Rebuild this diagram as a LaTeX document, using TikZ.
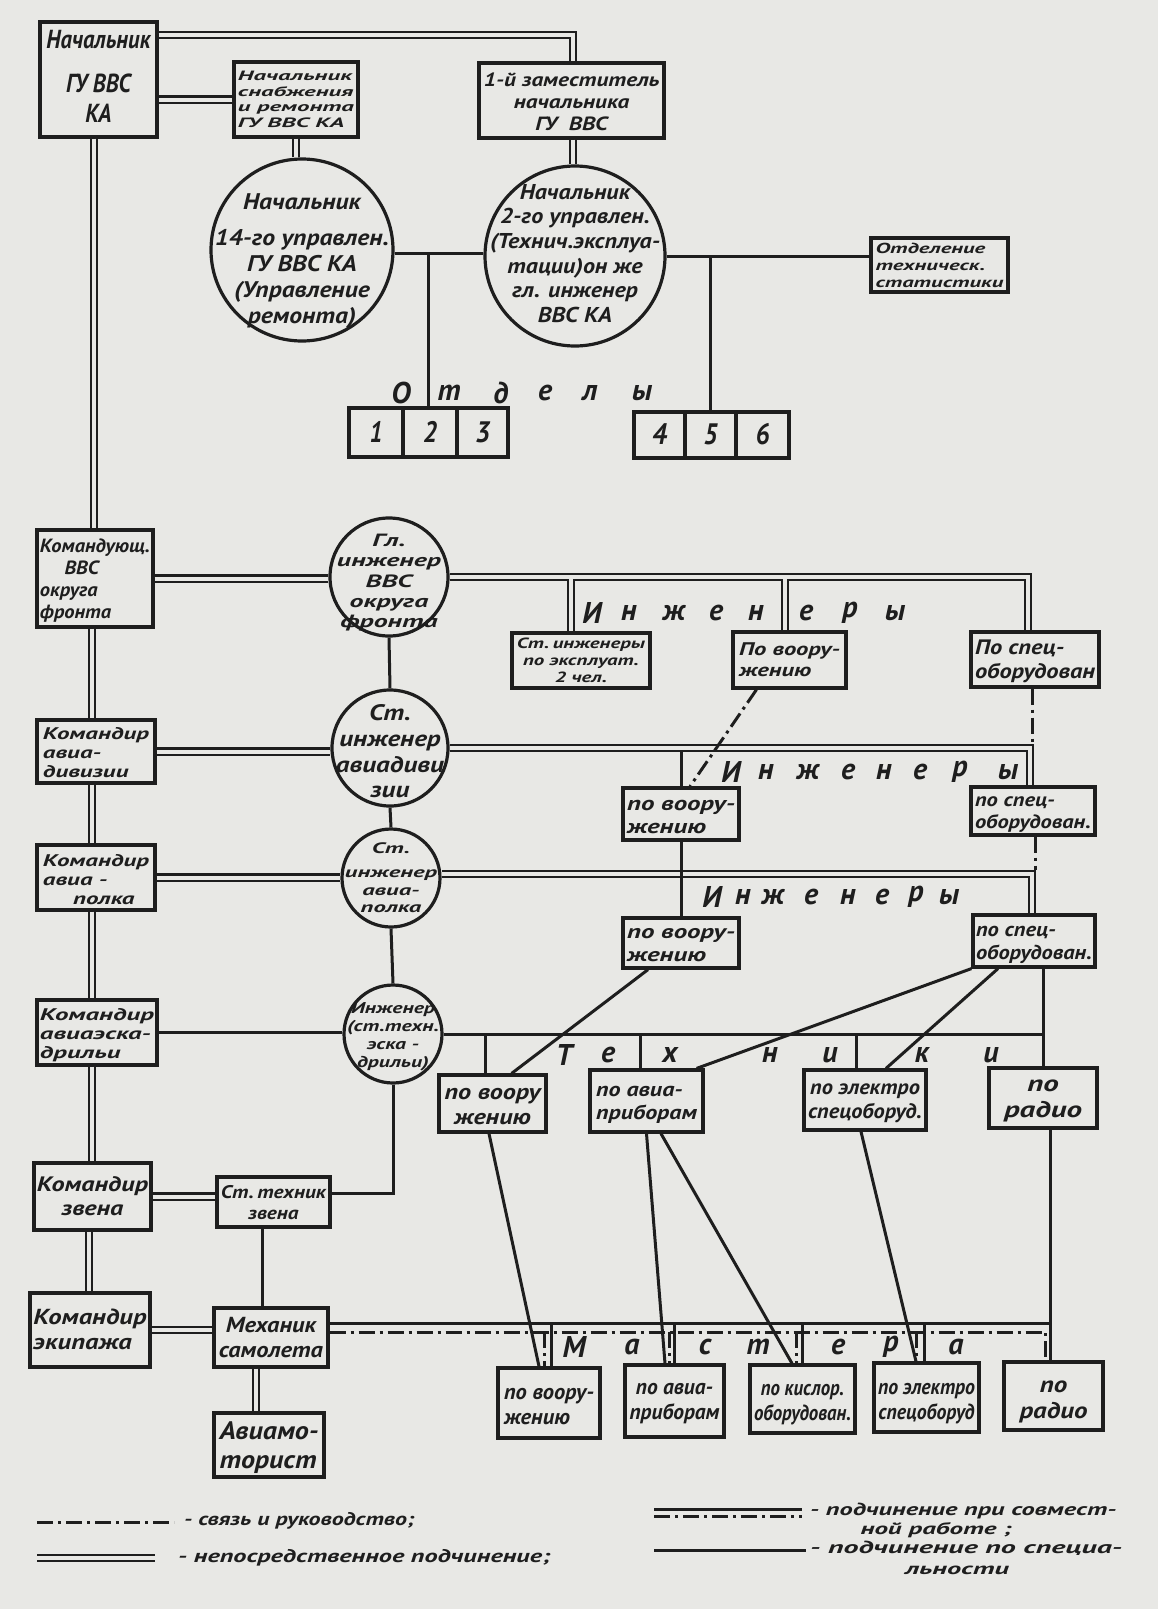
\documentclass[tikz,border=0pt]{standalone}
\usepackage{fontspec}
\usepackage{graphicx}
\newfontfamily\handfont{PT Sans}
\usetikzlibrary{calc}
\definecolor{paper}{RGB}{232,232,229}
\definecolor{ink}{RGB}{30,30,30}
\newcommand\hw{\fontsize{10}{11.5}\selectfont\handfont\bfseries\itshape}
\newcommand\tb[4][c]{\resizebox*{#2pt}{#3pt}{\hw\begin{tabular}{@{}#1@{}}#4\end{tabular}}}
\tikzset{
  ln/.style={draw=ink, line width=3pt},
  dbl/.style={draw=ink, line width=2.4pt, double=paper, double distance=4pt},
  dd/.style={draw=ink, line width=3pt, dash pattern=on 16pt off 5pt on 3pt off 5pt},
  box/.style={draw=ink, line width=3.2pt, rectangle, inner sep=0pt},
  circ/.style={draw=ink, line width=3.2pt, circle, inner sep=0pt},
  tl/.style={inner sep=0pt, text=ink},
  ltr/.style={inner sep=0pt, text=ink, font=\fontsize{30}{30}\selectfont\handfont\bfseries\itshape},
}
\begin{document}
\begin{tikzpicture}[x=1pt,y=-1pt]
\fill[paper] (0,0) rectangle (1158,1609);
\useasboundingbox (0,0) rectangle (1158,1609);

% ---------- top level ----------
\node[box, minimum width=117pt, minimum height=115pt, label={[tl]center:{\tb{104}{104}{Начальник\\[5.4pt]ГУ ВВС\\КА}}}] (A) at (98.5,79.5) {};
\node[box, minimum width=124pt, minimum height=75pt, label={[tl,yshift=-1.5pt]center:{\tb[l]{116}{62}{Начальник\\снабжения\\и ремонта\\ГУ ВВС КА}}}] (B) at (296,99.5) {};
\node[box, minimum width=185pt, minimum height=75pt, label={[tl,yshift=-4pt]center:{\tb{176}{66}{1-й заместитель\\начальника\\ГУ~~ВВС}}}] (C) at (571.5,100.5) {};
\node[circ, minimum size=182pt, label={[tl,yshift=-11pt]center:{\tb{174}{140}{Начальник\\[4.4pt]14-го управлен.\\ГУ ВВС КА\\(Управление\\ремонта)}}}] (D) at (302,250) {};
\node[circ, minimum size=180pt, label={[tl]center:{\tb{170}{148}{Начальник\\2-го управлен.\\(Технич.эксплуа-\\тации)он же\\гл. инженер\\ВВС КА}}}] (E) at (575,256) {};
\node[box, minimum width=137pt, minimum height=54pt, label={[tl,yshift=-2pt]center:{\tb[l]{128}{50}{Отделение\\техническ.\\статистики}}}] (Otd) at (939.5,265) {};

\node[box, minimum width=54pt, minimum height=49pt, label={[tl,yshift=-3pt]center:{\tb{13}{34}{1}}}] (b1) at (376,432.5) {};
\node[box, minimum width=54pt, minimum height=49pt, label={[tl,yshift=-3pt]center:{\tb{14}{34}{2}}}] (b2) at (430,432.5) {};
\node[box, minimum width=51pt, minimum height=49pt, label={[tl,yshift=-3pt]center:{\tb{15}{34}{3}}}] (b3) at (482.5,432.5) {};
\node[box, minimum width=51pt, minimum height=46pt, label={[tl,yshift=-3pt]center:{\tb{15}{34}{4}}}] (b4) at (659.5,435) {};
\node[box, minimum width=51pt, minimum height=46pt, label={[tl,yshift=-3pt]center:{\tb{14}{34}{5}}}] (b5) at (710.5,435) {};
\node[box, minimum width=53pt, minimum height=46pt, label={[tl,yshift=-3pt]center:{\tb{14}{34}{6}}}] (b6) at (762.5,435) {};

% ---------- okrug level ----------
\node[box, minimum width=116pt, minimum height=97pt, label={[tl,yshift=-2.5pt]center:{\tb[l]{110}{88}{Командующ.\\\hspace*{1.2em}ВВС\\округа\\фронта}}}] (F) at (95,578.5) {};
\node[circ, minimum size=118pt, label={[tl,yshift=-6pt]center:{\tb{104}{102}{Гл.\\инженер\\ВВС\\округа\\фронта}}}] (G) at (389,577) {};
\node[box, minimum width=138pt, minimum height=55pt, label={[tl,yshift=-2pt]center:{\tb{128}{51}{Ст.\,инженеры\\по эксплуат.\\2 чел.}}}] (R1a) at (581,660.5) {};
\node[box, minimum width=113pt, minimum height=56pt, label={[tl,yshift=-2pt]center:{\tb[l]{101}{42}{По воору-\\жению}}}] (R1b) at (789.5,660) {};
\node[box, minimum width=128pt, minimum height=55pt, label={[tl,yshift=-2.5pt]center:{\tb[l]{120}{48}{По спец-\\оборудован}}}] (R1c) at (1035,659.5) {};

% ---------- division ----------
\node[box, minimum width=118pt, minimum height=63pt, label={[tl,yshift=-3pt]center:{\tb[l]{106}{58}{Командир\\авиа-\\дивизии}}}] (I) at (96,751.5) {};
\node[circ, minimum size=116pt, label={[tl,yshift=-6pt]center:{\tb{108}{103}{Ст.\\инженер\\авиадиви\\зии}}}] (H) at (390,748) {};
\node[box, minimum width=116pt, minimum height=52pt, label={[tl,yshift=-3pt]center:{\tb[l]{108}{46}{по воору-\\жению}}}] (R2a) at (681,814) {};
\node[box, minimum width=124pt, minimum height=48pt, label={[tl,yshift=-2.5pt]center:{\tb[l]{116}{44}{по спец-\\оборудован.}}}] (R2b) at (1033,811) {};

% ---------- regiment ----------
\node[box, minimum width=118pt, minimum height=65pt, label={[tl,yshift=-4pt]center:{\tb[l]{106}{58}{Командир\\авиа -\\\hspace*{1.2em}полка}}}] (K) at (96,877.5) {};
\node[circ, minimum size=98pt, label={[tl,yshift=-1.5pt]center:{\tb{92}{77}{Ст.\\[4.9pt]инженер\\авиа-\\полка}}}] (J) at (391,878) {};
\node[box, minimum width=116pt, minimum height=50pt, label={[tl,yshift=-2.5pt]center:{\tb[l]{108}{45}{по воору-\\жению}}}] (R3a) at (681,943) {};
\node[box, minimum width=122pt, minimum height=52pt, label={[tl,yshift=-2.5pt]center:{\tb[l]{116}{46}{по спец-\\оборудован.}}}] (R3b) at (1034,941) {};

% ---------- squadron ----------
\node[box, minimum width=120pt, minimum height=65pt, label={[tl,yshift=-3pt]center:{\tb[l]{114}{58}{Командир\\авиаэска-\\дрильи}}}] (M) at (97,1032.5) {};
\node[circ, minimum size=98pt, label={[tl,yshift=-3pt]center:{\tb{92}{72}{Инженер\\(ст.техн.\\эска -\\дрильи)}}}] (L) at (393,1034) {};
\node[box, minimum width=107pt, minimum height=57pt, label={[tl,yshift=-3pt]center:{\tb{96}{50}{по воору\\жению}}}] (T1) at (492.5,1103.5) {};
\node[box, minimum width=113pt, minimum height=62pt, label={[tl,yshift=-2pt]center:{\tb[l]{101}{46}{по авиа-\\приборам}}}] (T2) at (646.5,1101) {};
\node[box, minimum width=122pt, minimum height=60pt, label={[tl,yshift=-2pt]center:{\tb{114}{48}{по электро\\спецоборуд.}}}] (T3) at (865,1100) {};
\node[box, minimum width=108pt, minimum height=60pt, label={[tl,yshift=-1pt]center:{\tb{78}{52}{по\\радио}}}] (T4) at (1043,1098) {};

% ---------- flight / crew ----------
\node[box, minimum width=117pt, minimum height=67pt, label={[tl,yshift=-2.5pt]center:{\tb{111}{48}{Командир\\звена}}}] (O) at (92.5,1196.5) {};
\node[box, minimum width=113pt, minimum height=50pt, label={[tl,yshift=-3pt]center:{\tb{105}{42}{Ст.\,техник\\звена}}}] (N) at (273.5,1202) {};
\node[box, minimum width=120pt, minimum height=74pt, label={[tl,yshift=-2pt]center:{\tb[l]{113}{50}{Командир\\экипажа}}}] (Q) at (90,1330) {};
\node[box, minimum width=114pt, minimum height=59pt, label={[tl,yshift=-2.5pt]center:{\tb{104}{50}{Механик\\самолета}}}] (P) at (271,1337.5) {};
\node[box, minimum width=110pt, minimum height=64pt, label={[tl,yshift=-3pt]center:{\tb[l]{99}{58}{Авиамо-\\торист}}}] (R) at (269,1445) {};

% ---------- masters ----------
\node[box, minimum width=102pt, minimum height=70pt, label={[tl,yshift=-4pt]center:{\tb[l]{90}{50}{по воору-\\жению}}}] (M1) at (549,1403) {};
\node[box, minimum width=99pt, minimum height=72pt, label={[tl,yshift=-1pt]center:{\tb{90}{50}{по авиа-\\приборам}}}] (M2) at (674.5,1401) {};
\node[box, minimum width=105pt, minimum height=68pt, label={[tl,yshift=-4pt]center:{\tb{97}{50}{по кислор.\\оборудован.}}}] (M3) at (802.5,1399) {};
\node[box, minimum width=105pt, minimum height=69pt, label={[tl,yshift=-4pt]center:{\tb{97}{50}{по электро\\спецоборуд}}}] (M4) at (926.5,1397.5) {};
\node[box, minimum width=99pt, minimum height=68pt, label={[tl,yshift=-4pt]center:{\tb{68}{52}{по\\радио}}}] (M5) at (1053.5,1396) {};

% ---------- spaced words ----------
\foreach \c/\x [count=\i] in {О/401,т/449,д/501,е/545,л/590,ы/642}
  \node[ltr] (otd\i) at (\x,393) {\c};
\foreach \c/\x [count=\i] in {И/592,н/629,ж/674,е/716,н/756,е/806,р/850,ы/895}
  \node[ltr] (ia\i) at (\x,613) {\c};
\foreach \c/\x [count=\i] in {И/731,н/766,ж/808,е/848,н/884,е/920,р/960,ы/1008}
  \node[ltr] (ib\i) at (\x,772) {\c};
\foreach \c/\x [count=\i] in {И/712,н/743,ж/773,е/811,н/848,е/882,р/916,ы/949}
  \node[ltr] (ic\i) at (\x,897) {\c};
\foreach \c/\x [count=\i] in {Т/564,е/608,х/670,н/770,и/830,к/922,и/991}
  \node[ltr] (te\i) at (\x,1055) {\c};
\foreach \c/\x [count=\i] in {М/574,а/632,с/705,т/758,е/838,р/891,а/956}
  \node[ltr] (ma\i) at (\x,1347) {\c};

% ---------- junction coordinates ----------
\coordinate (colA) at (94,0);
\coordinate (colB) at (92,0);
\coordinate (colC) at (89,0);
\coordinate (jDE) at (428,253);
\coordinate (jE) at (710,256);
\coordinate (g1) at (571,579);
\coordinate (g2) at (785,579);
\coordinate (h0) at (0,744);
\coordinate (h1) at (0,750);
\coordinate (j0) at (0,870);
\coordinate (mt) at (0,1323);
\coordinate (md) at (0,1332);

% ---------- top connectors ----------
\draw[dbl] ([yshift=-14.5pt]A.north east) -| ([xshift=1.5pt]C.north);
\draw[dbl] (B.west) -- (B.west -| A.east);
\draw[dbl] (B.south) -- (B.south |- D.north);
\draw[dbl] ([xshift=1.5pt]C.south) -- ([xshift=1.5pt]C.south |- E.north);
\draw[ln] ([yshift=-3pt]D.east) -- ([yshift=-3pt]D.east -| E.west);
\draw[ln] (jDE) -- (jDE |- b2.north);
\draw[ln] (E.east) -- (E.east -| Otd.west);
\draw[ln] (jE) -- (jE |- b5.north);

% ---------- commander column ----------
\draw[dbl] (A.south -| colA) -- (F.north -| colA);
\draw[dbl] (F.south -| colB) -- (I.north -| colB);
\draw[dbl] (I.south -| colB) -- (K.north -| colB);
\draw[dbl] (K.south -| colB) -- (M.north -| colB);
\draw[dbl] (M.south -| colB) -- (O.north -| colB);
\draw[dbl] (O.south -| colC) -- (Q.north -| colC);

% ---------- okrug ----------
\draw[dbl] (F.east) -- (F.east -| G.west);
\draw[dbl] (G.east) -| ([xshift=-7pt]R1c.north);
\draw[dbl] (g1) -- (g1 |- R1a.north);
\draw[dbl] (g2) -- (g2 |- R1b.north);
\draw[ln] (G.south) -- (H.north);

% ---------- division ----------
\draw[dbl] (I.east) -- (I.east -| H.west);
\draw[dbl] (H.east) -| ([xshift=-3pt]R2b.north);
\draw[ln] (R2a.north) -- (R2a.north |- h1);
\draw[dd] ([xshift=-33pt]R1b.south) -- ([xshift=9pt]R2a.north);
\draw[dd] ([xshift=-3pt]R1c.south) -- ([xshift=-3pt]R1c.south |- h0);
\draw[ln] (H.south) -- (J.north);

% ---------- regiment ----------
\draw[dbl] (K.east) -- (K.east -| J.west);
\draw[dbl] ([yshift=4pt]J.east) -| ([xshift=-2pt]R3b.north);
\draw[ln] (R2a.south) -- (R3a.north);
\draw[dd] ([xshift=2pt]R2b.south) -- ([xshift=2pt]R2b.south |- j0);
\draw[ln] (J.south) -- (L.north);

% ---------- squadron / technicians ----------
\draw[ln] (M.east) -- (M.east -| L.west);
\draw[ln] (L.east) -- (L.east -| T4.north);
\draw[ln] (R3b.south -| T4.north) -- (T4.north);
\draw[ln] ([xshift=-7pt]T1.north) -- ([xshift=-7pt]T1.north |- L.east);
\draw[ln] ([xshift=-6pt]T2.north) -- ([xshift=-6pt]T2.north |- L.east);
\draw[ln] ([xshift=-9pt]T3.north) -- ([xshift=-9pt]T3.north |- L.east);
\draw[ln] ([xshift=-33pt]R3a.south) -- ([xshift=-36pt]T1.north east);
\draw[ln] (R3b.south west) -- ([xshift=-8pt]T2.north east);
\draw[ln] ([xshift=-36pt]R3b.south) -- ([xshift=21pt]T3.north);

% ---------- technicians to masters ----------
\draw[ln] ([xshift=-3.5pt]T1.south) -- ([xshift=-10pt]M1.north);
\draw[ln] (T2.south) -- ([xshift=-9.5pt]M2.north);
\draw[ln] ([xshift=14.5pt]T2.south) -- ([xshift=-10.5pt]M3.north);
\draw[ln] ([xshift=-4pt]T3.south) -- ([xshift=-10.5pt]M4.north);
\draw[ln] ([xshift=7pt]T4.south) -- ([xshift=-3.5pt]M5.north);

% ---------- flight / crew ----------
\draw[ln] (L.south) |- ([yshift=9pt]N.east);
\draw[dbl] (O.east) -- (O.east -| N.west);
\draw[ln] ([xshift=-11pt]N.south) -- ([xshift=-11pt]N.south |- P.north);
\draw[dbl] (Q.east) -- (Q.east -| P.west);
\draw[dbl] ([xshift=-15pt]P.south) -- ([xshift=-15pt]P.south |- R.north);

% ---------- masters joint line ----------
\draw[ln] (P.east |- mt) -- ([xshift=7pt]T4.south |- mt);
\draw[dd] (P.east |- md) -| ([xshift=-8pt]M5.north);
\draw[ln] ([xshift=2pt]M1.north) -- ([xshift=2pt]M1.north |- mt);
\draw[ln] (M2.north) -- (M2.north |- mt);
\draw[ln] (M3.north) -- (M3.north |- mt);
\draw[ln] ([xshift=-2.5pt]M4.north) -- ([xshift=-2.5pt]M4.north |- mt);
\draw[dd] ([xshift=-5pt]M1.north |- md) -- ([xshift=-5pt]M1.north);
\draw[dd] ([xshift=-5.5pt]M2.north |- md) -- ([xshift=-5.5pt]M2.north);
\draw[dd] ([xshift=-6.5pt]M3.north |- md) -- ([xshift=-6.5pt]M3.north);
\draw[dd] ([xshift=-10pt]M4.north |- md) -- ([xshift=-10pt]M4.north);

% ---------- legend ----------
\coordinate (la1) at (37,1522); \coordinate (la2) at (174,1522);
\coordinate (lb1) at (37,1558); \coordinate (lb2) at (155,1558);
\coordinate (lc1) at (654,1509); \coordinate (lc2) at (802,1509);
\coordinate (ld1) at (654,1516); \coordinate (ld2) at (802,1516);
\coordinate (le1) at (654,1550); \coordinate (le2) at (806,1550);
\draw[dd] (la1) -- (la2);
\draw[dbl] (lb1) -- (lb2);
\draw[ln] (lc1) -- (lc2);
\draw[dd] (ld1) -- (ld2);
\draw[ln] (le1) -- (le2);
\node[tl, anchor=west] (lt1) at (184,1521) {\tb{230}{21}{- связь и руководство;}};
\node[tl, anchor=west] (lt2) at (178,1558) {\tb{372}{21}{- непосредственное подчинение;}};
\node[tl, anchor=west] (lt3) at (810,1511) {\tb{306}{20}{- подчинение при совмест-}};
\node[tl] (lt4) at (936,1531) {\tb{151}{19}{ной работе ;}};
\node[tl, anchor=west] (lt5) at (810,1549) {\tb{312}{20}{- подчинение по специа-}};
\node[tl] (lt6) at (957,1571) {\tb{104}{19}{льности}};
\end{tikzpicture}
\end{document}
